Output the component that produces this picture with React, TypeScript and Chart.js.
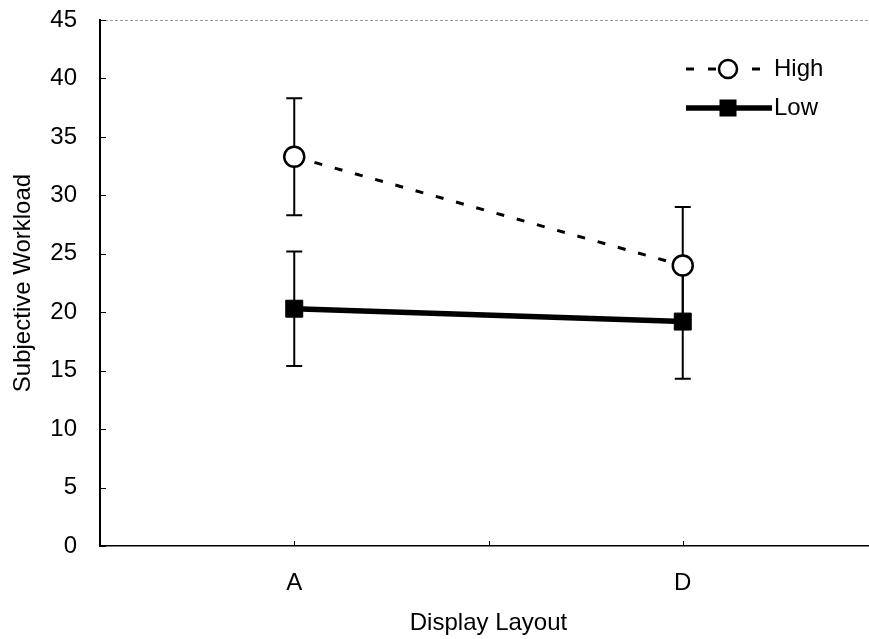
import React, { useEffect, useRef } from "react";
import { Chart, registerables } from "chart.js";

Chart.register(...registerables);

const categories = ["A", "D"];
const seriesNames = ["High", "Low"];
const highValues = [33.3, 24.0];
const lowValues = [20.3, 19.2];
const highErrors = [5.0, 5.0];
const lowErrors = [4.9, 4.9];
const yMin = 0;
const yMax = 45;
const yStep = 5;

const FONT = "'Liberation Sans', Arial, Helvetica, sans-serif";
const FONT_SIZE = 24;
const CANVAS_W = 890;
const CANVAS_H = 639;

const errorBarPlugin = {
  id: "errorBars",
  beforeDatasetsDraw(chart: any) {
    const { ctx } = chart;
    const xs = chart.scales.x;
    const ys = chart.scales.y;
    const sets = [
      { vals: highValues, errs: highErrors },
      { vals: lowValues, errs: lowErrors },
    ];
    ctx.save();
    ctx.strokeStyle = "#000";
    ctx.lineWidth = 2;
    sets.forEach((s) => {
      s.vals.forEach((v, i) => {
        const x = xs.getPixelForValue(i);
        const yt = ys.getPixelForValue(v + s.errs[i]);
        const yb = ys.getPixelForValue(v - s.errs[i]);
        ctx.beginPath();
        ctx.moveTo(x, yt);
        ctx.lineTo(x, yb);
        ctx.moveTo(x - 8, yt);
        ctx.lineTo(x + 8, yt);
        ctx.moveTo(x - 8, yb);
        ctx.lineTo(x + 8, yb);
        ctx.stroke();
      });
    });
    ctx.restore();
  },
};

const framePlugin = {
  id: "frame",
  beforeDatasetsDraw(chart: any) {
    const { ctx, chartArea } = chart;
    const ys = chart.scales.y;
    const xs = chart.scales.x;
    ctx.save();
    ctx.strokeStyle = "#9a9a9a";
    ctx.lineWidth = 1;
    ctx.setLineDash([3, 2]);
    ctx.beginPath();
    ctx.moveTo(chartArea.left, chartArea.top + 0.5);
    ctx.lineTo(chartArea.right, chartArea.top + 0.5);
    ctx.stroke();
    ctx.setLineDash([]);
    ctx.strokeStyle = "#000";
    ys.ticks.forEach((t: any) => {
      const y = Math.round(ys.getPixelForValue(t.value)) + 0.5;
      ctx.beginPath();
      ctx.moveTo(chartArea.left, y);
      ctx.lineTo(chartArea.left + 6, y);
      ctx.stroke();
    });
    const positions: number[] = [];
    categories.forEach((_, i) => positions.push(xs.getPixelForValue(i)));
    for (let i = 0; i < categories.length - 1; i++) {
      positions.push((xs.getPixelForValue(i) + xs.getPixelForValue(i + 1)) / 2);
    }
    positions.forEach((p) => {
      const x = Math.round(p) + 0.5;
      ctx.beginPath();
      ctx.moveTo(x, chartArea.bottom);
      ctx.lineTo(x, chartArea.bottom - 5);
      ctx.stroke();
    });
    ctx.restore();
  },
};

const legendPlugin = {
  id: "customLegend",
  afterDatasetsDraw(chart: any) {
    const { ctx, chartArea } = chart;
    const x0 = chartArea.right - 191;
    const x1 = chartArea.right - 108;
    const mx = chartArea.right - 149;
    const tx = chartArea.right - 103;
    const rows = [chartArea.top + 49, chartArea.top + 88];
    ctx.save();
    let y = rows[0];
    ctx.strokeStyle = "#000";
    ctx.lineWidth = 3;
    ctx.setLineDash([8, 14]);
    ctx.beginPath();
    ctx.moveTo(x0, y);
    ctx.lineTo(x1 - 8, y);
    ctx.stroke();
    ctx.setLineDash([]);
    ctx.fillStyle = "#fff";
    ctx.lineWidth = 2.5;
    ctx.beginPath();
    ctx.arc(mx, y, 9, 0, Math.PI * 2);
    ctx.fill();
    ctx.stroke();
    y = rows[1];
    ctx.lineWidth = 5.5;
    ctx.beginPath();
    ctx.moveTo(x0, y);
    ctx.lineTo(x1 + 3, y);
    ctx.stroke();
    ctx.fillStyle = "#000";
    ctx.fillRect(mx - 8.5, y - 8.5, 17, 17);
    ctx.fillStyle = "#000";
    ctx.font = `${FONT_SIZE}px ${FONT}`;
    ctx.textAlign = "left";
    ctx.textBaseline = "middle";
    ctx.fillText(seriesNames[0], tx, rows[0]);
    ctx.fillText(seriesNames[1], tx, rows[1]);
    ctx.restore();
  },
};

export default function App() {
  const canvasRef = useRef<HTMLCanvasElement | null>(null);

  useEffect(() => {
    document.body.style.margin = "0";
    document.body.style.overflow = "hidden";
    const canvas = canvasRef.current;
    if (!canvas) return;
    const chart = new Chart(canvas, {
      type: "line",
      data: {
        labels: categories,
        datasets: [
          {
            label: seriesNames[0],
            data: highValues,
            borderColor: "#000",
            borderWidth: 3,
            borderDash: [8, 13],
            pointStyle: "circle",
            pointRadius: 10,
            pointBackgroundColor: "#fff",
            pointBorderColor: "#000",
            pointBorderWidth: 2.5,
            fill: false,
            tension: 0,
          },
          {
            label: seriesNames[1],
            data: lowValues,
            borderColor: "#000",
            borderWidth: 5.5,
            pointStyle: "rect",
            pointRadius: 12,
            pointBackgroundColor: "#000",
            pointBorderColor: "#000",
            pointBorderWidth: 1,
            fill: false,
            tension: 0,
          },
        ],
      },
      options: {
        responsive: false,
        animation: false,
        devicePixelRatio: 1,
        layout: { padding: { left: 0, top: 20, right: CANVAS_W - 880, bottom: 0 } },
        plugins: {
          legend: { display: false },
          tooltip: { enabled: false },
        },
        scales: {
          x: {
            type: "category",
            offset: true,
            grid: { display: false, drawTicks: false },
            border: { display: true, color: "#000", width: 1.5 },
            ticks: {
              color: "#000",
              font: { family: FONT, size: FONT_SIZE },
              padding: 23,
              maxRotation: 0,
            },
            title: {
              display: true,
              text: "Display Layout",
              color: "#000",
              font: { family: FONT, size: FONT_SIZE },
              padding: { top: 0, bottom: 1 },
            },
            afterFit: (scale: any) => {
              scale.height = 93;
              scale.paddingLeft = 0;
              scale.paddingRight = 0;
            },
          },
          y: {
            min: yMin,
            max: yMax,
            grid: { display: false, drawTicks: false },
            border: { display: true, color: "#000", width: 2 },
            ticks: {
              stepSize: yStep,
              color: "#000",
              font: { family: FONT, size: FONT_SIZE },
              padding: 23,
            },
            title: {
              display: true,
              text: "Subjective Workload",
              color: "#000",
              font: { family: FONT, size: FONT_SIZE },
              padding: { top: 9, bottom: 0 },
            },
            afterFit: (scale: any) => {
              scale.width = 100;
              scale.paddingTop = 0;
              scale.paddingBottom = 0;
            },
          },
        },
      },
      plugins: [framePlugin, errorBarPlugin, legendPlugin],
    });
    return () => chart.destroy();
  }, []);

  return (
    <div style={{ width: CANVAS_W, height: CANVAS_H, background: "#fff" }}>
      <canvas ref={canvasRef} width={CANVAS_W} height={CANVAS_H} />
    </div>
  );
}
